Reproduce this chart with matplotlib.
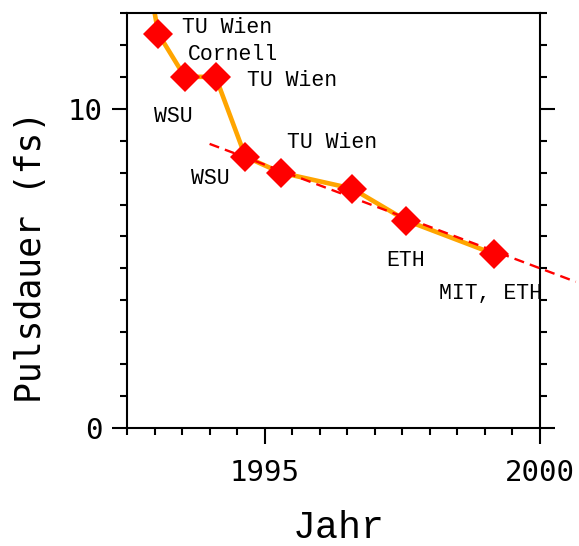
import matplotlib
matplotlib.use("Agg")
import matplotlib.pyplot as plt
from matplotlib.ticker import MultipleLocator, FixedLocator

# Shortest pulse durations reported per year
years = [1993.07, 1993.55, 1994.11, 1994.65, 1995.29, 1996.59, 1997.57, 1999.17]
pulse_fs = [12.35, 11.0, 11.0, 8.5, 8.0, 7.5, 6.5, 5.45]
groups = ["TU Wien", "Cornell", "TU Wien", "WSU", "TU Wien", "WSU", "ETH", "MIT, ETH"]

# Earlier part of the curve, running off the top of the axes
lead_in_year, lead_in_fs = 1992.95, 13.5

# Trend line (start and end)
trend_years = [1994.0, 2000.65]
trend_fs = [8.9, 4.58]

# Label anchor points (data coordinates), same order as `groups`
label_pos = [(1993.50, 12.54), (1993.61, 11.69), (1994.68, 10.89), (1992.99, 9.77),
             (1995.41, 8.93), (1993.67, 7.83), (1997.20, 5.25), (1998.17, 4.21)]

mono_serif = "Liberation Mono"
mono_sans = "DejaVu Sans Mono"

fig = plt.figure(figsize=(5.79, 5.46), dpi=100)
ax = fig.add_axes([127 / 579, 1 - 428 / 546, (540 - 127) / 579, (428 - 13) / 546])

ax.plot([lead_in_year] + years, [lead_in_fs] + pulse_fs, color="#FFA500", lw=3.3,
        solid_joinstyle="round", zorder=2)
ax.plot(trend_years, trend_fs, color="#FF0000", lw=1.7, dashes=(4.3, 2.6),
        clip_on=False, zorder=3)
ax.plot(years, pulse_fs, linestyle="none", marker="D", markersize=15,
        color="#FF0000", markeredgewidth=0, zorder=4)

for text, (x, y) in zip(groups, label_pos):
    ax.text(x, y, text, fontfamily=mono_serif, fontsize=15.5, ha="left", va="center",
            zorder=5)

ax.set_xlim(1992.5, 2000)
ax.set_ylim(0, 13)

ax.xaxis.set_major_locator(FixedLocator([1995, 2000]))
ax.xaxis.set_minor_locator(MultipleLocator(0.5))
ax.yaxis.set_major_locator(FixedLocator([0, 10]))
ax.yaxis.set_minor_locator(MultipleLocator(1))
ax.xaxis.set_major_formatter(plt.FuncFormatter(lambda v, p: f"{v:.0f}"))
ax.yaxis.set_major_formatter(plt.FuncFormatter(lambda v, p: f"{v:.0f}"))

for s in ax.spines.values():
    s.set_linewidth(1.5)

ax.tick_params(axis="both", which="both", direction="out", width=1.5, color="black")
ax.tick_params(axis="x", which="major", length=11.5, pad=11, labelsize=21)
ax.tick_params(axis="x", which="minor", length=5)
ax.tick_params(axis="y", which="major", length=10.5, pad=7, labelsize=21,
               left=True, right=True)
ax.tick_params(axis="y", which="minor", length=5, left=True, right=True)
ax.tick_params(top=False, which="both")
for lbl in ax.get_xticklabels() + ax.get_yticklabels():
    lbl.set_fontfamily(mono_sans)

ax.set_xlabel("Jahr", fontfamily=mono_serif, fontsize=27.5, va="center")
ax.xaxis.set_label_coords(0.513, -0.241)
ax.set_ylabel("Pulsdauer (fs)", fontfamily=mono_sans, fontsize=25, va="center")
ax.yaxis.set_label_coords(-0.232, 0.412)

fig.savefig("out.png", dpi=100)
